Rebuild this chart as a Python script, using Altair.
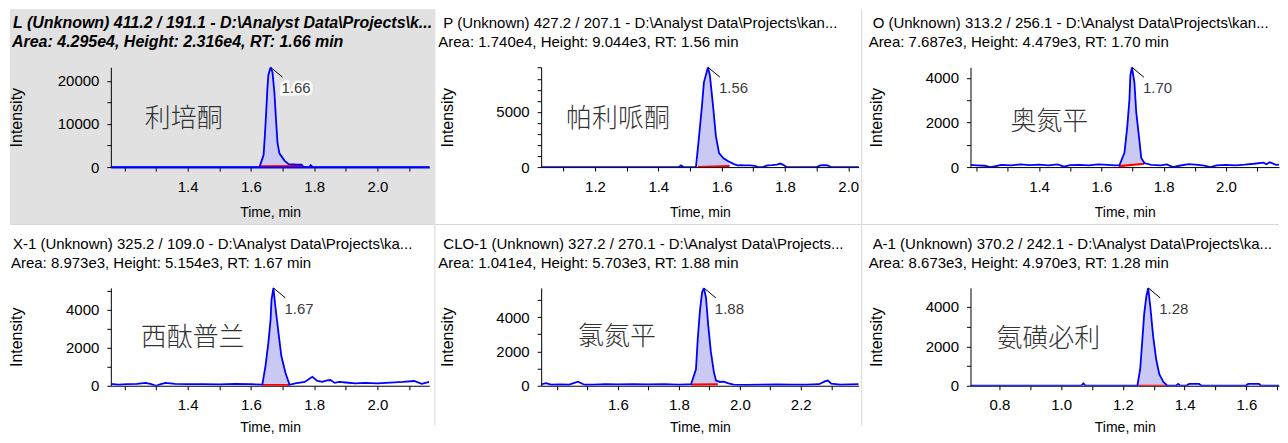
import json
import altair as alt
import numpy as np
import pandas as pd

# ---------------- data ----------------
names = ["利培酮", "帕利哌酮", "奥氮平", "西酞普兰", "氯氮平", "氨磺必利"]
title_line1 = [
    "L (Unknown) 411.2 / 191.1 - D:\\Analyst Data\\Projects\\k...",
    "P (Unknown) 427.2 / 207.1 - D:\\Analyst Data\\Projects\\kan...",
    "O (Unknown) 313.2 / 256.1 - D:\\Analyst Data\\Projects\\kan...",
    "X-1 (Unknown) 325.2 / 109.0 - D:\\Analyst Data\\Projects\\ka...",
    "CLO-1 (Unknown) 327.2 / 270.1 - D:\\Analyst Data\\Projects...",
    "A-1 (Unknown) 370.2 / 242.1 - D:\\Analyst Data\\Projects\\ka...",
]
title_line2 = [
    "Area: 4.295e4, Height: 2.316e4, RT: 1.66 min",
    "Area: 1.740e4, Height: 9.044e3, RT: 1.56 min",
    "Area: 7.687e3, Height: 4.479e3, RT: 1.70 min",
    "Area: 8.973e3, Height: 5.154e3, RT: 1.67 min",
    "Area: 1.041e4, Height: 5.703e3, RT: 1.88 min",
    "Area: 8.673e3, Height: 4.970e3, RT: 1.28 min",
]
rt_labels = ["1.66", "1.56", "1.70", "1.67", "1.88", "1.28"]

p1_t = [1.157, 1.25, 1.35, 1.45, 1.55, 1.60, 1.627, 1.640, 1.644, 1.648, 1.652, 1.655, 1.662, 1.668,
        1.674, 1.679, 1.684, 1.690, 1.706, 1.719, 1.740, 1.760, 1.765, 1.775, 1.785, 1.789, 1.795,
        1.85, 1.95, 2.05, 2.164]
p1_v = [0, 0, 0, 0, 0, 0, 0, 2800, 7400, 12500, 18300, 21300, 23160, 22000,
        17400, 11300, 5600, 3200, 1500, 700, 600, 550, 100, 0, 0, 450, 0,
        0, 0, 0, 0]

p2_t = [1.03, 1.10, 1.20, 1.30, 1.40, 1.465, 1.472, 1.479, 1.50, 1.519, 1.528, 1.538, 1.544, 1.557,
        1.563, 1.573, 1.582, 1.592, 1.606, 1.620, 1.639, 1.650, 1.660, 1.670, 1.690, 1.705, 1.715,
        1.730, 1.745, 1.760, 1.775, 1.785, 1.795, 1.805, 1.82, 1.90, 1.912, 1.922, 1.935, 1.945, 2.035]
p2_v = [0, 0, 0, 0, 0, 0, 150, 0, 0, 0, 2550, 5550, 7650, 9044,
        8300, 5550, 2800, 1270, 800, 550, 270, 150, 180, 150, 150, 120, 0,
        0, 150, 180, 220, 320, 200, 0, 0, 0, 150, 180, 150, 0, 0]

p3_t = [1.18, 1.20, 1.225, 1.245, 1.26, 1.28, 1.31, 1.34, 1.37, 1.40, 1.43, 1.46, 1.48, 1.50, 1.53,
        1.56, 1.59, 1.62, 1.645, 1.658, 1.674, 1.683, 1.690, 1.693, 1.698, 1.706, 1.712, 1.722, 1.728,
        1.738, 1.76, 1.79, 1.81, 1.83, 1.85, 1.88, 1.91, 1.93, 1.95, 1.97, 2.00, 2.03, 2.06, 2.09,
        2.12, 2.13, 2.14, 2.16, 2.193]
p3_v = [100, 80, 60, 0, 40, 100, 80, 120, 90, 110, 80, 120, 20, 90, 100,
        80, 120, 100, 80, 90, 640, 1800, 3030, 4100, 4479, 3800, 2440, 1200, 410,
        180, 100, 80, 120, 0, 60, 130, 100, 70, 0, 80, 100, 80, 110, 150,
        200, 130, 220, 100, 130]

p4_t = [1.157, 1.18, 1.21, 1.24, 1.267, 1.285, 1.30, 1.315, 1.33, 1.36, 1.40, 1.45, 1.50, 1.55, 1.60,
        1.636, 1.646, 1.655, 1.662, 1.665, 1.671, 1.677, 1.687, 1.696, 1.709, 1.722, 1.74, 1.77,
        1.794, 1.81, 1.826, 1.84, 1.851, 1.865, 1.879, 1.90, 1.93, 1.96, 2.00, 2.04, 2.08, 2.116,
        2.14, 2.164]
p4_v = [100, 60, 80, 100, 150, 80, 0, 90, 150, 100, 80, 90, 70, 100, 80,
        60, 1050, 2260, 3470, 4520, 5154, 4200, 2800, 1580, 680, 50, 120, 200,
        470, 250, 200, 280, 300, 150, 200, 170, 120, 150, 130, 160, 200, 250,
        100, 200]

p5_t = [1.348, 1.364, 1.38, 1.41, 1.44, 1.469, 1.49, 1.52, 1.56, 1.60, 1.65, 1.70, 1.75, 1.80,
        1.825, 1.840, 1.856, 1.862, 1.869, 1.876, 1.882, 1.889, 1.896, 1.905, 1.915, 1.922, 1.935,
        1.948, 1.96, 1.98, 2.02, 2.07, 2.12, 2.17, 2.22, 2.26, 2.279, 2.289, 2.30, 2.33, 2.36, 2.39]
p5_v = [80, 150, 60, 80, 70, 240, 60, 70, 90, 80, 90, 80, 90, 70,
        80, 90, 960, 2750, 4360, 5430, 5703, 5130, 3580, 1970, 780, 300, 220,
        240, 150, 60, 50, 60, 80, 60, 70, 90, 250, 300, 120, 60, 80, 90]

p6_t = [0.706, 0.80, 0.90, 1.00, 1.065, 1.072, 1.079, 1.15, 1.20, 1.247, 1.256, 1.263, 1.269,
        1.276, 1.282, 1.289, 1.298, 1.308, 1.318, 1.331, 1.344, 1.36, 1.372, 1.379, 1.386, 1.405,
        1.415, 1.447, 1.455, 1.52, 1.598, 1.606, 1.641, 1.648, 1.729]
p6_v = [0, 0, 0, 0, 0, 120, 0, 0, 0, 0, 840, 2320, 3650,
        4540, 4970, 4000, 2520, 1330, 590, 200, 0, 0, 0, 90, 0, 0,
        90, 90, 0, 0, 0, 90, 90, 0, 0]

# integration baselines (red)
base_t = [[1.630, 1.760], [1.525, 1.625], [1.655, 1.738], [1.636, 1.722], [1.840, 1.928], [1.247, 1.344]]
base_v = [[150, 250], [0, 100], [40, 150], [40, 40], [60, 80], [0, 0]]

# axes
x_domain = [[1.157, 2.164], [1.03, 2.033], [1.18, 2.170], [1.157, 2.164], [1.348, 2.39], [0.706, 1.706]]
y_max = [23160, 9044, 4479, 5154, 5703, 4970]
x_ticks = [[1.2, 1.3, 1.4, 1.5, 1.6, 1.7, 1.8, 1.9, 2.0, 2.1],
           [1.1, 1.2, 1.3, 1.4, 1.5, 1.6, 1.7, 1.8, 1.9, 2.0],
           [1.2, 1.3, 1.4, 1.5, 1.6, 1.7, 1.8, 1.9, 2.0, 2.1],
           [1.2, 1.3, 1.4, 1.5, 1.6, 1.7, 1.8, 1.9, 2.0, 2.1],
           [1.4, 1.5, 1.6, 1.7, 1.8, 1.9, 2.0, 2.1, 2.2, 2.3],
           [0.8, 0.9, 1.0, 1.1, 1.2, 1.3, 1.4, 1.5, 1.6, 1.7]]
x_labels = [[1.4, 1.6, 1.8, 2.0], [1.2, 1.4, 1.6, 1.8, 2.0], [1.4, 1.6, 1.8, 2.0],
            [1.4, 1.6, 1.8, 2.0], [1.6, 1.8, 2.0, 2.2], [0.8, 1.0, 1.2, 1.4, 1.6]]
y_ticks = [[0, 5000, 10000, 15000, 20000],
           [0, 1000, 2000, 3000, 4000, 5000, 6000, 7000, 8000, 9000],
           [0, 1000, 2000, 3000, 4000],
           [0, 1000, 2000, 3000, 4000, 5000],
           [0, 1000, 2000, 3000, 4000, 5000],
           [0, 1000, 2000, 3000, 4000]]
y_labels = [[0, 10000, 20000], [0, 5000], [0, 2000, 4000], [0, 2000, 4000], [0, 2000, 4000], [0, 2000, 4000]]

traces = [(p1_t, p1_v), (p2_t, p2_v), (p3_t, p3_v), (p4_t, p4_v), (p5_t, p5_v), (p6_t, p6_v)]

# ---------------- layout / style ----------------
FONT = "Liberation Sans, Arial, Helvetica, sans-serif"
CJK = "Noto Sans CJK SC"
BLUE = "#0000ff"
FILL = "#c9c9f3"
W = [319, 318, 309]
H = [100, 98]
name_pos = [(34, 52), (25, 52), (40, 55), (30, 50), (37, 49), (26, 51)]
line2_x = [-99, -103, -102, -100, -103, -102]
vsep_x = [324.5, 321]
one = alt.Data(values=[{"k": 0}])


def make_panel(i):
    col, row = i % 3, i // 3
    w, h = W[col], H[row]
    t, v = traces[i]
    df = pd.DataFrame({"t": t, "v": v})

    bt, bv = base_t[i], base_v[i]
    ta = np.array(t)
    va = np.array(v)
    m = (ta >= bt[0]) & (ta <= bt[1])
    pt = np.concatenate([[bt[0]], ta[m], [bt[1]]])
    pv = np.concatenate([[np.interp(bt[0], ta, va)], va[m], [np.interp(bt[1], ta, va)]])
    pb = np.interp(pt, bt, bv)
    peak_df = pd.DataFrame({"t": pt, "v": pv, "b": pb})
    base_df = pd.DataFrame({"t": bt, "v": bv})
    k = int(np.argmax(va))
    apex_df = pd.DataFrame({"t": [t[k]], "v": [v[k]], "lab": [rt_labels[i]]})

    xlab = json.dumps(x_labels[i])
    ylab = json.dumps(y_labels[i])
    top = 1 if i == 0 else 0
    xaxis = alt.Axis(
        values=x_ticks[i],
        labelExpr=f"indexof({xlab}, datum.value) >= 0 ? format(datum.value, '.1f') : ''",
        title="Time, min", grid=False, tickSize=4, tickColor="black",
        domainColor=BLUE if i == 0 else "black", domainWidth=2 if i == 0 else 1,
        labelColor="black", labelFont=FONT, labelFontSize=15, labelPadding=8,
        labelFlush=False, labelOverlap=False, zindex=top,
        titleFont=FONT, titleFontSize=14, titleFontWeight="normal", titleColor="black",
        titleX=w / 2, titleY=45 if row == 0 else 42, titleBaseline="middle", titleAlign="center",
    )
    yaxis = alt.Axis(
        values=y_ticks[i],
        labelExpr=f"indexof({ylab}, datum.value) >= 0 ? format(datum.value, 'd') : ''",
        title="Intensity", grid=False, tickSize=4, tickColor="black", domainColor="black",
        labelColor="black", labelFont=FONT, labelFontSize=15, labelPadding=8,
        labelFlush=False, labelOverlap=False, zindex=top,
        titleFont=FONT, titleFontSize=16, titleFontWeight="normal", titleColor="black",
        titleX=-94, titleY=h / 2, titleAngle=270, titleBaseline="middle", titleAlign="center",
    )
    xs = alt.Scale(domain=x_domain[i], nice=False, zero=False)
    ys = alt.Scale(domain=[0, y_max[i]], nice=False, zero=False)
    X = alt.X("t:Q", scale=xs, axis=xaxis)
    Y = alt.Y("v:Q", scale=ys, axis=yaxis)

    layers = []
    if i == 0:
        layers.append(alt.Chart(one).mark_rect(color="#e1e1e1").encode(
            x=alt.value(-101), x2=alt.value(324), y=alt.value(-58), y2=alt.value(157)))
    # separators
    if row == 0:
        left = {0: -101, 1: -106.5, 2: -110}[col]
        right = {0: 324.5, 1: 321, 2: w}[col]
        layers.append(alt.Chart(one).mark_rule(color="#d8d8d8", strokeWidth=1).encode(
            x=alt.value(left), x2=alt.value(right), y=alt.value(157.5)))
    if col < 2:
        y0, y1 = (-58, 157.5) if row == 0 else (-63.5, 138)
        layers.append(alt.Chart(one).mark_rule(color="#d8d8d8", strokeWidth=1).encode(
            x=alt.value(vsep_x[col]), y=alt.value(y0), y2=alt.value(y1)))

    layers.append(alt.Chart(peak_df).mark_area(color=FILL, opacity=1, clip=True).encode(
        x=X, y=Y, y2=alt.Y2("b")))
    layers.append(alt.Chart(base_df).mark_line(color="#ff0000", strokeWidth=2.2, clip=True).encode(
        x=X, y=Y))
    layers.append(alt.Chart(df).mark_line(color=BLUE, strokeWidth=1.8, clip=True).encode(
        x=X, y=Y))
    layers.append(alt.Chart(apex_df).mark_rule(color="black", strokeWidth=1, x2Offset=12, y2Offset=10).encode(
        x=X, y=Y, x2=alt.X2("t"), y2=alt.Y2("v")))
    if i == 0:
        layers.append(alt.Chart(apex_df).mark_text(
            align="left", baseline="middle", dx=11, dy=21, font=FONT, fontSize=15,
            color="white", stroke="white", strokeWidth=5).encode(x=X, y=Y, text="lab:N"))
    layers.append(alt.Chart(apex_df).mark_text(
        align="left", baseline="middle", dx=11, dy=21, font=FONT, fontSize=15,
        color="#3c3c3c").encode(x=X, y=Y, text="lab:N"))

    nx, ny = name_pos[i]
    layers.append(alt.Chart(one).mark_text(
        align="left", baseline="middle", font=CJK, fontSize=26, fontWeight=300,
        color="#333333").encode(
        x=alt.value(nx), y=alt.value(ny), text=alt.value(names[i])))

    style = dict(font=FONT, fontSize=15, color="black", align="left", baseline="alphabetic")
    if i == 0:
        style.update(fontStyle="italic", fontWeight="bold", fontSize=16)
    layers.append(alt.Chart(one).mark_text(**style).encode(
        x=alt.value(-98), y=alt.value(-39), text=alt.value(title_line1[i])))
    layers.append(alt.Chart(one).mark_text(**style).encode(
        x=alt.value(line2_x[i]), y=alt.value(-20), text=alt.value(title_line2[i])))

    return alt.layer(*layers).properties(width=w, height=h)


panels = [make_panel(i) for i in range(6)]

chart = alt.concat(
    *panels, columns=3, spacing={"row": 121, "column": 112}, bounds="flush"
).properties(padding=0, background="white").configure_view(stroke="transparent")

chart.save("out.html", embed_options={"renderer": "svg", "actions": False})
